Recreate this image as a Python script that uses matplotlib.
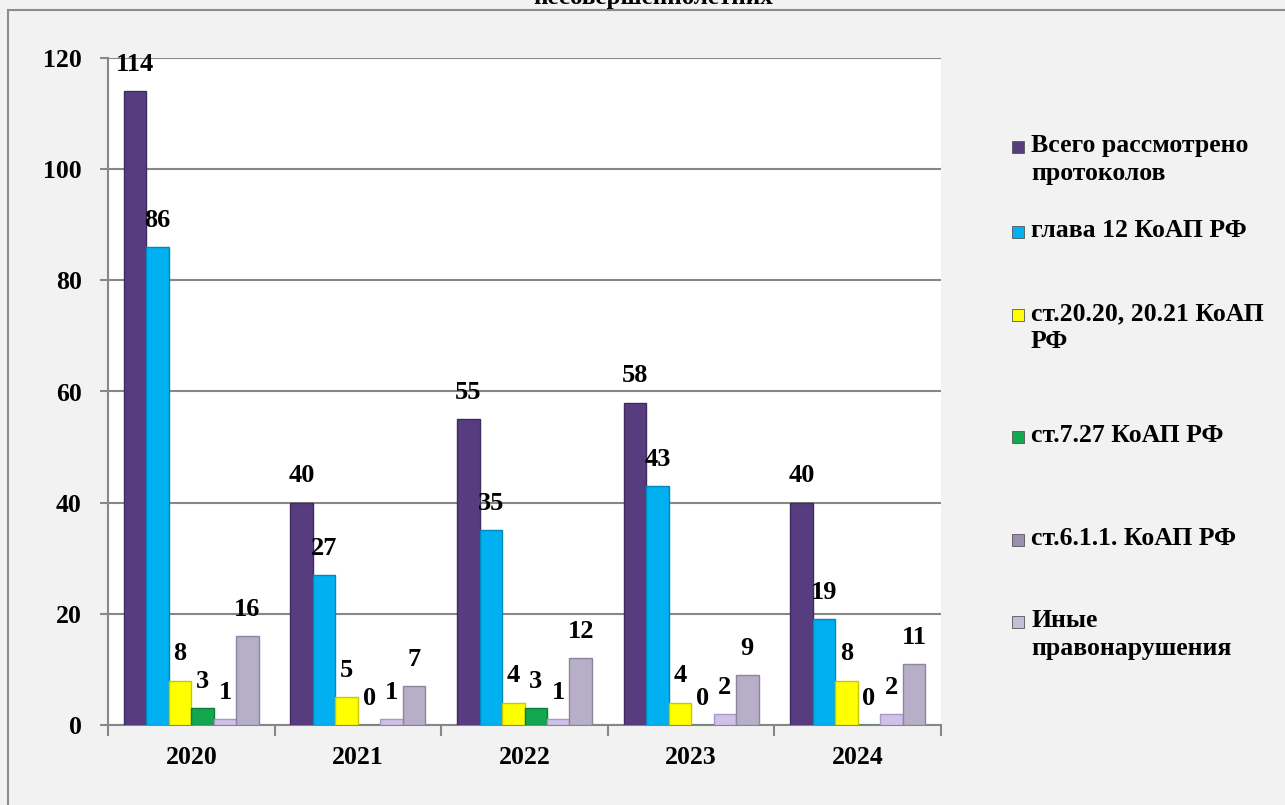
import matplotlib.pyplot as plt
from matplotlib.patches import Rectangle
import numpy as np

plt.rcParams['font.family'] = ['Liberation Serif', 'DejaVu Serif']
plt.rcParams['font.weight'] = 'bold'

############## data
years = ['2020', '2021', '2022', '2023', '2024']
series_names = ['Всего рассмотрено\nпротоколов', 'глава 12 КоАП РФ',
                'ст.20.20, 20.21 КоАП\nРФ', 'ст.7.27 КоАП РФ',
                'ст.6.1.1. КоАП РФ', 'Иные\nправонарушения']
total = [114, 40, 55, 58, 40]
ch12 = [86, 27, 35, 43, 19]
st2020 = [8, 5, 4, 4, 8]
st727 = [3, 0, 3, 0, 0]
st611 = [1, 1, 1, 2, 2]
other = [16, 7, 12, 9, 11]
values = [total, ch12, st2020, st727, st611, other]

colors = ['#573d7f', '#00b0f0', '#ffff00', '#13a750', '#cfc2e8', '#b7aec8']
edges = ['#3e2a5c', '#0088bb', '#c8c800', '#0b7a3a', '#a898c8', '#8d849e']
legend_sw = ['#573d7f', '#00b0f0', '#ffff00', '#13a750', '#9a8fae', '#c5bdd3']

fig = plt.figure(figsize=(12.85, 8.05), dpi=100)
fig.patch.set_facecolor('#f2f2f2')

# chart border + title (cut off at the top, as in the source)
fig.patches.append(Rectangle((8 / 1285, -0.05), 1.1, 1 - 10 / 805 + 0.05,
                             transform=fig.transFigure, fill=False,
                             edgecolor='#8c8c8c', linewidth=1.5))
fig.text(653 / 1285, 1 - 4 / 805, 'несовершеннолетних', ha='center', va='baseline',
         fontsize=18, fontweight='bold')

ax = fig.add_axes([108 / 1285, 80 / 805, 833 / 1285, 667 / 805])
ax.set_facecolor('white')

x = np.arange(len(years))
w = 0.135
for i, vals in enumerate(values):
    pos = x + (i - 2.5) * w
    ax.bar(pos, vals, width=w, color=colors[i], edgecolor=edges[i], linewidth=1, zorder=3)
    for p, v in zip(pos, vals):
        ax.annotate(str(v), (p, v), xytext=(0, 11), textcoords='offset points',
                    ha='center', va='bottom', fontsize=19, fontweight='bold', zorder=4)

ax.set_ylim(0, 120)
ax.set_xlim(-0.5, len(years) - 0.5)
ax.set_yticks(range(0, 121, 20))
ax.yaxis.grid(True, color='#878787', linewidth=1.5, zorder=0)
ax.set_xticks(x)
ax.set_xticklabels(years)
ax.set_xticks(np.arange(-0.5, len(years), 1), minor=True)
ax.tick_params(axis='x', which='major', length=0, pad=15, labelsize=18.5)
ax.tick_params(axis='x', which='minor', length=8, width=1.5, color='#878787', direction='out')
ax.tick_params(axis='y', length=6, width=1.5, color='#878787', pad=13, labelsize=18.5)

for side in ['top', 'right']:
    ax.spines[side].set_visible(False)
for side in ['left', 'bottom']:
    ax.spines[side].set_color('#878787')
    ax.spines[side].set_linewidth(1.5)

############## legend (drawn by hand to match spacing)
leg_y = [147, 232, 315, 437, 540, 622]
for name, c, y in zip(series_names, legend_sw, leg_y):
    fy = 1 - y / 805
    fig.patches.append(Rectangle((1012 / 1285, fy - 6 / 805), 12 / 1285, 12 / 805,
                                 transform=fig.transFigure, facecolor=c,
                                 edgecolor='#555555', linewidth=0.6))
    fig.text(1031 / 1285, fy + 13 / 805, name, ha='left', va='top', fontsize=18.5,
             fontweight='bold', linespacing=1.28)

fig.savefig('out.png', dpi=100, facecolor=fig.get_facecolor())
